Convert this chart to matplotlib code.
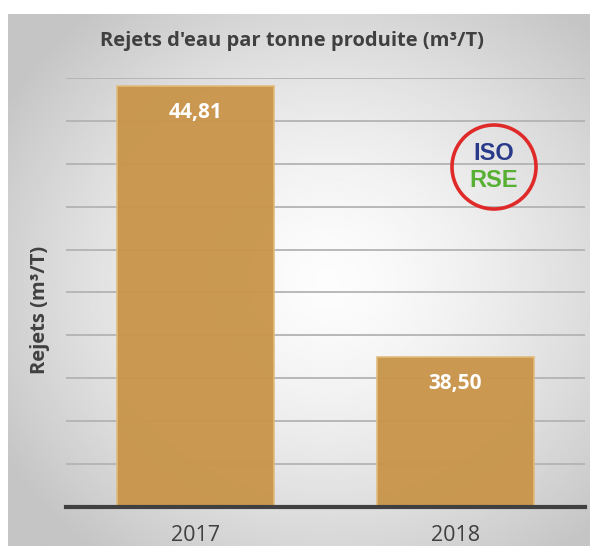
import numpy as np
import matplotlib
matplotlib.use("Agg")
import matplotlib.pyplot as plt
from matplotlib.patches import Ellipse

years = ["2017", "2018"]
rejets = [44.81, 38.50]
labels = ["44,81", "38,50"]
y_min, y_max = 35, 45

BAR_C, EDGE_C, TXT_C = "#c9954a", "#e2bb7a", "#404040"
plt.rcParams["font.family"] = ["Open Sans", "DejaVu Sans"]

W, H = 590, 546
fig = plt.figure(figsize=(W / 100, H / 100), dpi=100)
fig.patch.set_facecolor("white")

# grey panel with a radial gradient
bg = fig.add_axes([8/W, 0, 1 - 8/W, 1 - 14/H])
gx, gy = np.meshgrid(np.linspace(0, 1, 300), np.linspace(0, 1, 300))
r = np.sqrt(((gx - 0.55) / 0.75) ** 2 + ((gy - 0.5) / 0.75) ** 2)
shade = np.clip(0.99 - 0.27 * r ** 1.5, 0.77, 1.0)
bg.imshow(shade, cmap="gray", vmin=0, vmax=1, extent=[0, 1, 0, 1], aspect="auto", origin="lower")
bg.axis("off")

ax = fig.add_axes([66/W, 1 - 507/H, (585 - 66)/W, (507 - 78)/H])
ax.patch.set_alpha(0)
x = np.arange(len(years))
ax.bar(x, [v - y_min for v in rejets], bottom=y_min, width=0.605, color=BAR_C,
       edgecolor=EDGE_C, linewidth=1.2, alpha=0.96, zorder=3)
for xi, v, lab in zip(x, rejets, labels):
    ax.text(xi, v - 0.62, lab, ha="center", va="center", color="white",
            fontsize=15, fontweight="bold", zorder=4)

ax.set_xlim(-0.5, 1.5)
ax.set_ylim(y_min, y_max)
ax.set_yticks(np.arange(y_min, y_max + 1, 1))
ax.yaxis.grid(True, color="#b3b3b3", lw=1.3, zorder=1)
ax.tick_params(axis="y", length=0, labelleft=False)
ax.tick_params(axis="x", length=0, pad=13, labelsize=15.5, labelcolor=TXT_C)
ax.set_xticks(x)
ax.set_xticklabels(years)
for s in ["top", "right", "left"]:
    ax.spines[s].set_visible(False)
ax.spines["bottom"].set_color("#404040")
ax.spines["bottom"].set_linewidth(3)
ax.spines["bottom"].set_zorder(5)

fig.text(292/W, 1 - 41/H, "Rejets d'eau par tonne produite (m³/T)", ha="center", va="center",
         fontsize=14.5, fontweight="bold", color=TXT_C)
fig.text(40/W, 1 - 310/H, "Rejets (m³/T)", ha="center", va="center", rotation=90,
         fontsize=14.5, fontweight="bold", color=TXT_C)

# ISO / RSE badge
badge = Ellipse((494/W, 1 - 167/H), 84/W, 84/H, transform=fig.transFigure, fill=False,
                edgecolor="#e02a2a", linewidth=2.6, zorder=6)
fig.add_artist(badge)
fig.text(494/W, 1 - 153/H, "ISO", ha="center", va="center", fontsize=17, fontweight="bold",
         color="#2a3a8a", family=["Liberation Sans", "DejaVu Sans"])
fig.text(494/W, 1 - 181/H, "RSE", ha="center", va="center", fontsize=17, fontweight="bold",
         color="#58b032", family=["Liberation Sans", "DejaVu Sans"])

fig.savefig("out.png", dpi=100)
